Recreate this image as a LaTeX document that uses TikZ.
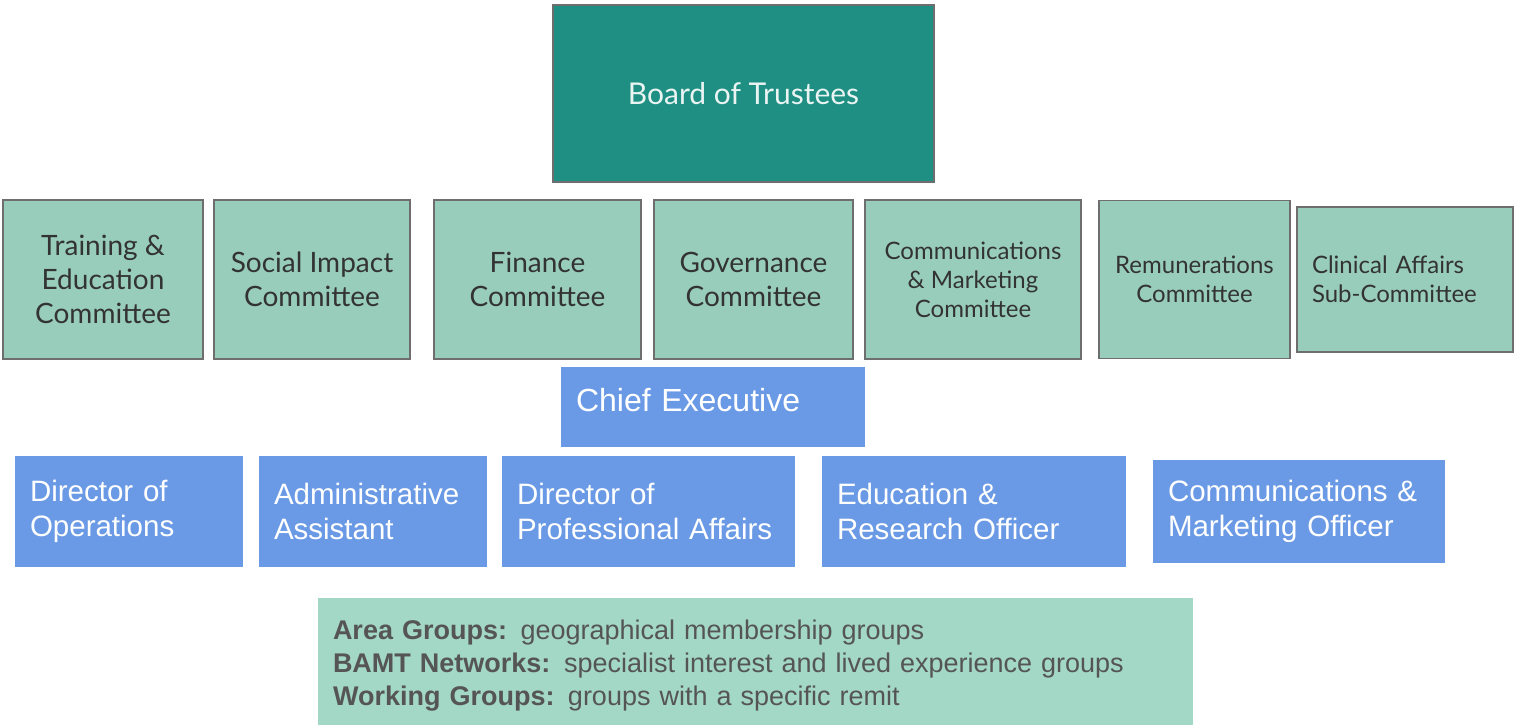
\documentclass[tikz,border=0pt]{standalone}
\usepackage{fontspec}
\setmainfont{Lato}
\newfontfamily\arialfont{Liberation Sans}
\usetikzlibrary{positioning}

\definecolor{boardteal}{HTML}{1E8F82}
\definecolor{cttegreen}{HTML}{98CDBC}
\definecolor{staffblue}{HTML}{6A9AE5}
\definecolor{groupgreen}{HTML}{A3D7C6}
\definecolor{boxline}{HTML}{6E6E6E}
\definecolor{grouptext}{HTML}{555555}

\begin{document}
\begin{tikzpicture}[x=1pt,y=-1pt,outer sep=0pt,
  board/.style={draw=boxline,line width=1.5pt,fill=boardteal,text=white!90!boardteal,
    font=\fontsize{30}{36}\selectfont,inner sep=0pt},
  ctte/.style={draw=boxline,line width=1.5pt,fill=cttegreen,text=black!80,align=center,
    font=\fontsize{28}{34}\selectfont,inner sep=0pt,minimum height=159pt},
  smallctte/.style={ctte,font=\fontsize{24}{29}\selectfont},
  staff/.style={fill=staffblue,text=white,align=left,inner xsep=15pt,inner ysep=0pt,
    font=\arialfont\fontsize{29.5}{35}\selectfont,minimum height=111pt},
  groups/.style={fill=groupgreen,text=grouptext,align=left,inner xsep=15pt,inner ysep=0pt,
    font=\arialfont\fontsize{27}{33}\selectfont}]
\useasboundingbox (0,0) rectangle (1515,725);

% board
\node[board,minimum width=381pt,minimum height=177pt] (board) at (743.5,93.5) {Board of Trustees};

% committees
\node[ctte,minimum width=200pt] (train) at (103,279.5) {Training \&\\Education\\Committee};
\node[ctte,minimum width=196pt,right=11pt of train] (social) {Social Impact\\Committee};
\node[ctte,minimum width=207pt,right=24pt of social] (finance) {Finance\\Committee};
\node[ctte,minimum width=199pt,right=13pt of finance] (gov) {Governance\\Committee};
\node[smallctte,minimum width=216pt,right=12pt of gov] (commsc) {Communications\\\& Marketing\\Committee};
\node[smallctte,minimum width=191pt,minimum height=158pt,right=18pt of commsc] (remun) {Remunerations\\Committee};
\node[smallctte,minimum width=216pt,minimum height=145pt,text width=186pt,align=left,
  inner xsep=15pt,right=7pt of remun] (clinical) {Clinical Affairs\\Sub-Committee};

% staff
\node[staff,minimum width=304pt,minimum height=80pt,text width=274pt,text depth=15pt,
  font=\arialfont\fontsize{32}{36}\selectfont] (chief) at (713,407) {Chief Executive};
\node[staff,minimum width=228pt,text width=198pt] (dirops) at (129,511.5) {Director of\\Operations};
\node[staff,minimum width=228pt,text width=198pt,right=16pt of dirops] (admin) {Administrative\\Assistant};
\node[staff,minimum width=293pt,text width=263pt,right=15pt of admin] (dirpa) {Director of\\Professional Affairs};
\node[staff,minimum width=304pt,text width=274pt,right=27pt of dirpa] (edres) {Education \&\\Research Officer};
\node[staff,minimum width=292pt,minimum height=103pt,text width=262pt,right=27pt of edres] (commso) {Communications \&\\Marketing Officer};

% member groups
\node[groups,minimum width=875pt,minimum height=135pt,text width=845pt] (areas) at (755.5,665.5)
  {\textbf{Area Groups:} geographical membership groups\\
   \textbf{BAMT Networks:} specialist interest and lived experience groups\\
   \textbf{Working Groups:} groups with a specific remit};
\end{tikzpicture}
\end{document}
